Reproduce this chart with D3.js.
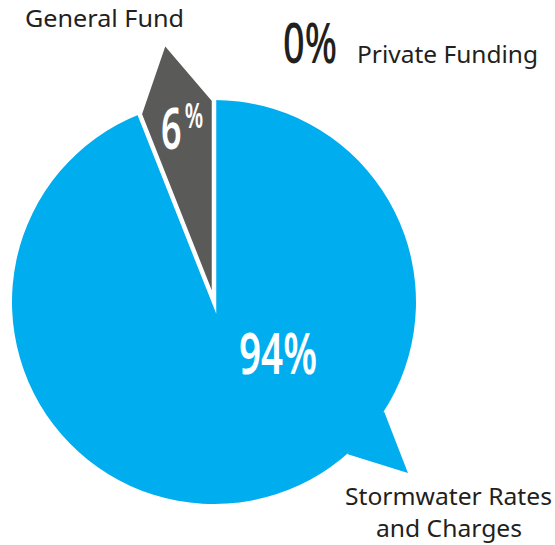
<!DOCTYPE html>
<html>
<head>
<meta charset="utf-8">
<script src="https://cdn.jsdelivr.net/npm/d3@7"></script>
<style>
  html, body { margin: 0; padding: 0; background: #ffffff; }
  svg { display: block; }
</style>
</head>
<body>
<script>
// ---- data ----
const categories = ["Stormwater Rates and Charges", "General Fund", "Private Funding"];
const values = [94, 6, 0];
const percentLabels = ["94%", "6%", "0%"];

// ---- layout / style ----
const W = 555, H = 545;
const cx = 214, cy = 302, R = 202;
const blue = "#00adef", gray = "#5a5b59", ink = "#231f20";

const svg = d3.select("body").append("svg").attr("width", W).attr("height", H);
const g = svg.append("g").attr("transform", `translate(${cx},${cy})`);

const pie = d3.pie().sort(null).value(d => d.v);
const arcs = pie(categories.map((c, i) => ({ c, v: values[i] })));
const arc = d3.arc().innerRadius(0).outerRadius(R);
const deg = Math.PI / 180;

// Blue slice (94%) with speech-bubble tail
const aBlue = arcs[0];
g.append("path").attr("d", arc(aBlue)).attr("fill", blue);
const tailA0 = 122.7 * deg, tailA1 = 138.8 * deg, tailTip = 131.4 * deg;
const tailPts = [d3.pointRadial(tailA0, R), d3.pointRadial(tailTip, R * 1.28), d3.pointRadial(tailA1, R)];
g.append("path").attr("d", d3.line()(tailPts) + "Z").attr("fill", blue);

// Gray slice (6%) with pointer tail
const aGray = arcs[1];
const grayPts = [
  [0, 0],
  d3.pointRadial(aGray.startAngle, R),
  d3.pointRadial((aGray.startAngle + aGray.endAngle) / 2, R * 1.31),
  d3.pointRadial(aGray.endAngle, R)
];
g.append("path")
  .attr("d", d3.line()(grayPts) + "Z")
  .attr("fill", gray)
  .attr("stroke", "#ffffff")
  .attr("stroke-width", 4.5)
  .attr("stroke-linejoin", "miter")
  .attr("stroke-miterlimit", 10);

// ---- labels ----
const labelFont = "'Noto Sans', 'Open Sans', sans-serif";
const numFont = "'Noto Sans', 'Open Sans', sans-serif";

function label(x, y, txt, len, anchor) {
  return svg.append("text").attr("x", x).attr("y", y)
    .attr("font-family", labelFont).attr("font-size", 23.5).attr("fill", ink)
    .attr("text-anchor", anchor || "start")
    .attr("textLength", len).attr("lengthAdjust", "spacingAndGlyphs")
    .text(txt);
}
label(25, 27, categories[1], 159);
label(357, 63, categories[2], 181);
label(345, 505, "Stormwater Rates", 207);
label(376, 537, "and Charges", 146);

// big numbers
svg.append("text").attr("x", 283).attr("y", 63)
  .attr("font-family", numFont).attr("font-weight", 500).attr("font-size", 57)
  .attr("fill", ink).attr("textLength", 54).attr("lengthAdjust", "spacingAndGlyphs")
  .text(percentLabels[2]);

svg.append("text").attr("x", 239).attr("y", 374)
  .attr("font-family", numFont).attr("font-weight", 600).attr("font-size", 58)
  .attr("fill", "#ffffff").attr("textLength", 78).attr("lengthAdjust", "spacingAndGlyphs")
  .text(percentLabels[0]);

const six = percentLabels[1];
const sixT = svg.append("text")
  .attr("transform", "translate(161,149) scale(0.62,1)")
  .attr("font-family", numFont).attr("font-weight", 600).attr("font-size", 58)
  .attr("fill", "#ffffff");
sixT.append("tspan").text(six.slice(0, -1));
sixT.append("tspan").attr("font-size", 34).attr("dx", 5).attr("dy", -21).text(six.slice(-1));
</script>
</body>
</html>
